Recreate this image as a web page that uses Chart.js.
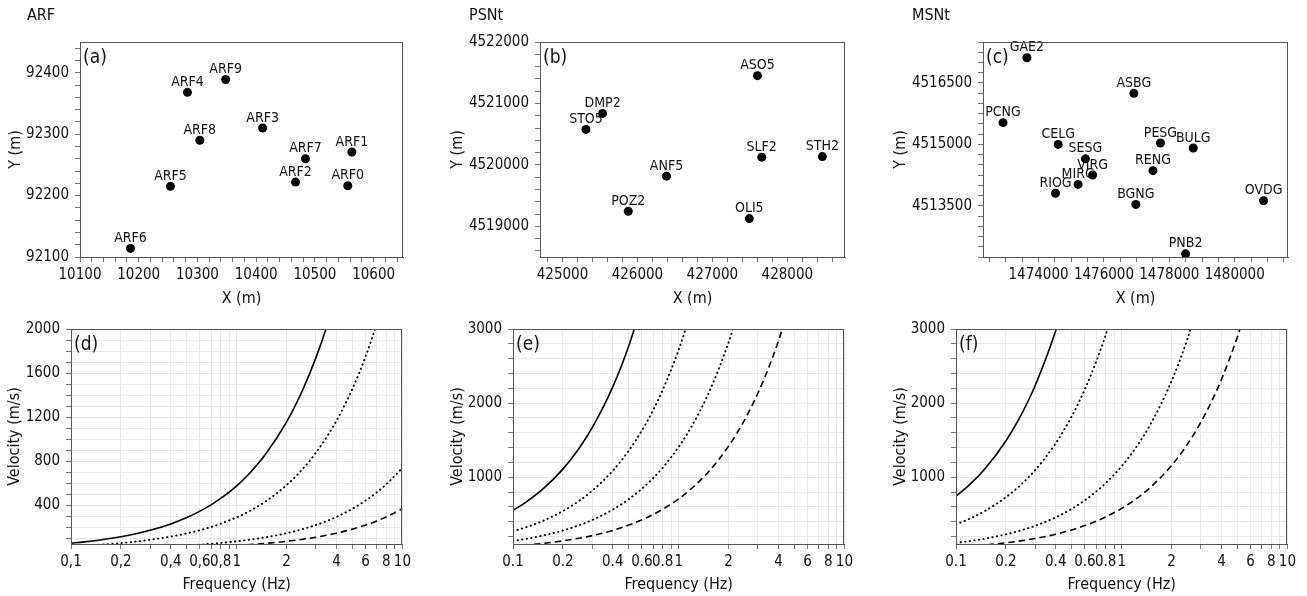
<!DOCTYPE html>
<html>
<head>
<meta charset="UTF-8">
<title>Array layouts and velocity limits</title>
<script src="https://cdn.jsdelivr.net/npm/chart.js"></script>
<style>
  *{margin:0; padding:0;}
  body{width:1307px; height:596px; background:#fff; position:relative; overflow:hidden;}
  canvas{position:absolute;}
</style>
</head>
<body>
<canvas id="pa" width="411" height="310" style="left:4px; top:0px;"></canvas>
<canvas id="pb" width="411" height="310" style="left:446px; top:0px;"></canvas>
<canvas id="pc" width="411" height="310" style="left:889px; top:0px;"></canvas>
<canvas id="pd" width="412" height="286" style="left:3px; top:310px;"></canvas>
<canvas id="pe" width="411" height="286" style="left:446px; top:310px;"></canvas>
<canvas id="pf" width="411" height="286" style="left:889px; top:310px;"></canvas>
<script>
// ---- station maps ----
const arfNames = ['ARF0','ARF1','ARF2','ARF3','ARF4','ARF5','ARF6','ARF7','ARF8','ARF9'];
const arfX = [10556, 10563, 10467, 10411, 10283, 10254, 10186, 10484, 10304, 10348];
const arfY = [92216, 92271, 92222, 92310, 92368, 92215, 92114, 92260, 92290, 92389];

const psnNames = ['ANF5','ASO5','DMP2','OLI5','POZ2','SLF2','STH2','STO5'];
const psnX = [426388, 427602, 425535, 427493, 425878, 427659, 428468, 425313];
const psnY = [4519816, 4521452, 4520837, 4519125, 4519244, 4520125, 4520135, 4520577];

const msnNames = ['ASBG','BGNG','BULG','CELG','GAE2','MIRG','OVDG','PCNG','PESG','PNB2','RENG','RIOG','SESG','VIRG'];
const msnX = [1476915, 1476976, 1478732, 1474600, 1473643, 1475210, 1480884, 1472912, 1477728, 1478497, 1477500, 1474518, 1475433, 1475652];
const msnY = [4516246, 4513535, 4514911, 4515000, 4517116, 4514023, 4513624, 4515531, 4515034, 4512327, 4514359, 4513806, 4514647, 4514253];

// major tick labels
const arfXLabels = [10100, 10200, 10300, 10400, 10500, 10600];
const arfYLabels = [92100, 92200, 92300, 92400];
const psnXLabels = [425000, 426000, 427000, 428000];
const psnYLabels = [4519000, 4520000, 4521000, 4522000];
const msnXLabels = [1474000, 1476000, 1478000, 1480000];
const msnYLabels = [4513500, 4515000, 4516500];

// ---- velocity curves (m/s) ----
const freqs = [0.1,0.12,0.15,0.2,0.25,0.3,0.4,0.5,0.6,0.7,0.8,1,1.2,1.5,2,2.5,3,3.5,4,5,6,7,8,10];

const arfSolid   = [57,69,87,116,145,174,232,290,348,405,463,578,694,868,1157,1447,1736,2025,2314,null,null,null,null,null];
const arfDot1    = [29,35,44,58,73,88,117,146,175,204,234,292,350,438,584,730,876,1022,1168,1460,1752,2044,null,null];
const arfDot2    = [null,null,null,null,null,null,30,37,44,52,59,74,89,111,148,185,222,259,296,370,444,518,592,740];
const arfDash    = [null,null,null,null,null,null,null,null,null,null,null,37,44,56,74,93,111,130,148,185,222,259,296,370];

const psnSolid   = [555,666,833,1110,1388,1665,2220,2775,3330,null,null,null,null,null,null,null,null,null,null,null,null,null,null,null];
const psnDot1    = [272,326,408,544,680,816,1088,1360,1632,1904,2176,2720,3264,null,null,null,null,null,null,null,null,null,null,null];
const psnDot2    = [141,169,212,282,353,423,564,705,846,987,1128,1410,1692,2115,2820,3525,null,null,null,null,null,null,null,null];
const psnDash    = [71,85,107,142,178,213,284,355,426,497,568,710,852,1065,1420,1775,2130,2485,2840,3550,null,null,null,null];

const msnSolid   = [745,894,1118,1490,1863,2235,2980,3725,null,null,null,null,null,null,null,null,null,null,null,null,null,null,null,null];
const msnDot1    = [365,438,548,730,913,1095,1460,1825,2190,2555,2920,3650,null,null,null,null,null,null,null,null,null,null,null,null];
const msnDot2    = [115,138,173,230,288,345,460,575,690,805,920,1150,1380,1725,2300,2875,3450,null,null,null,null,null,null,null];
const msnDash    = [58,70,87,116,145,174,232,290,348,406,464,580,696,870,1160,1450,1740,2030,2320,2900,3480,null,null,null];

const freqLabels = [0.1, 0.2, 0.4, 0.6, 0.8, 1, 2, 4, 6, 8, 10];
const freqTicks = [0.1,0.2,0.3,0.4,0.5,0.6,0.7,0.8,0.9,1,2,3,4,5,6,7,8,9,10];
const arfVLabels = [400, 800, 1200, 1600, 2000];
const netVLabels = [1000, 2000, 3000];

const FONT = '"DejaVu Sans Condensed", "DejaVu Sans", sans-serif';

function steps(a, b, step) {
  const out = [];
  for (let v = a; v <= b + 1e-9; v += step) out.push(Math.round(v * 1000) / 1000);
  return out;
}

function axis(o) {
  return {
    type: o.log ? 'logarithmic' : 'linear',
    min: o.min, max: o.max,
    afterBuildTicks: s => { s.ticks = o.ticks.map(v => ({value: v})); },
    afterFit: s => { if (o.w) s.width = o.w; if (o.h) s.height = o.h; },
    ticks: {
      autoSkip: false, maxRotation: 0, minRotation: 0, padding: o.w ? 6 : 4,
      color: '#111', font: {family: FONT, size: 15},
      callback: v => o.labels.includes(v) ? (o.fmt ? o.fmt(v) : String(v)) : ''
    },
    grid: {display: true, drawOnChartArea: !!o.grid, color: '#e8e8e8', tickLength: 5, tickColor: '#777'},
    border: {color: '#555'},
    title: {display: true, text: o.title, color: '#111', font: {family: FONT, size: 16}, padding: {top: 2, bottom: 2}}
  };
}

const panelPlugin = {
  id: 'panel',
  beforeDatasetsDraw(chart, args, o) {
    const {ctx, chartArea: a} = chart;
    ctx.save();
    ctx.fillStyle = '#111';
    ctx.textBaseline = 'middle';
    ctx.textAlign = 'left';
    ctx.font = '19px ' + FONT;
    ctx.fillText(o.letter, a.left + 3, a.top + 16);
    if (o.names) {
      ctx.font = '14px ' + FONT;
      ctx.textAlign = 'center';
      chart.getDatasetMeta(0).data.forEach((pt, i) => {
        ctx.fillText(o.names[i], pt.x, pt.y - 10);
      });
    }
    ctx.restore();
  },
  afterDraw(chart, args, o) {
    const {ctx, chartArea: a} = chart;
    ctx.save();
    ctx.strokeStyle = '#555';
    ctx.lineWidth = 1;
    ctx.strokeRect(Math.round(a.left) + 0.5, Math.round(a.top) + 0.5, Math.round(a.right - a.left) - 1, Math.round(a.bottom - a.top));
    if (o.title) {
      ctx.fillStyle = '#111';
      ctx.font = '16px ' + FONT;
      ctx.textBaseline = 'middle';
      ctx.textAlign = 'left';
      ctx.fillText(o.title, o.titleX, 16);
    }
    ctx.restore();
  }
};

function mapChart(id, xs, ys, names, title, letter, xa, ya) {
  new Chart(document.getElementById(id), {
    type: 'scatter',
    data: {datasets: [{
      data: xs.map((x, i) => ({x: x, y: ys[i]})),
      pointRadius: 4.5, pointHoverRadius: 4.5, backgroundColor: '#000', borderWidth: 0
    }]},
    options: {
      responsive: false, animation: false, devicePixelRatio: 1,
      layout: {padding: {top: 42, right: 12, left: 0, bottom: 0}},
      scales: {x: axis(xa), y: axis(ya)},
      plugins: {legend: {display: false}, tooltip: {enabled: false},
        panel: {names: names, title: title, titleX: 23, letter: letter}}
    },
    plugins: [panelPlugin]
  });
}

function curve(vals, style) {
  const ds = {
    data: freqs.map((f, i) => ({x: f, y: vals[i]})),
    borderColor: '#000', pointRadius: 0, borderWidth: 1.6,
    cubicInterpolationMode: 'monotone', spanGaps: false
  };
  if (style === 'dot') { ds.borderDash = [0.4, 4.2]; ds.borderCapStyle = 'round'; ds.borderWidth = 1.9; }
  if (style === 'dash') { ds.borderDash = [6.5, 4]; }
  return ds;
}

function velChart(id, sets, letter, ymin, ymax, yTicks, yLabels, yw, fmt) {
  new Chart(document.getElementById(id), {
    type: 'line',
    data: {datasets: [curve(sets[0], 'solid'), curve(sets[1], 'dot'), curve(sets[2], 'dot'), curve(sets[3], 'dash')]},
    options: {
      responsive: false, animation: false, devicePixelRatio: 1,
      layout: {padding: {top: 19, right: 12, left: 0, bottom: 0}},
      scales: {
        x: axis({log: true, min: 0.1, max: 10, ticks: freqTicks, labels: freqLabels, title: 'Frequency (Hz)', h: 52, grid: true, fmt: fmt}),
        y: axis({min: ymin, max: ymax, ticks: yTicks, labels: yLabels, title: 'Velocity (m/s)', w: yw, grid: true})
      },
      plugins: {legend: {display: false}, tooltip: {enabled: false}, panel: {letter: letter}}
    },
    plugins: [panelPlugin]
  });
}

mapChart('pa', arfX, arfY, arfNames, 'ARF', '(a)',
  {min: 10100, max: 10650, ticks: steps(10100, 10640, 20), labels: arfXLabels, title: 'X (m)', h: 53},
  {min: 92100, max: 92450, ticks: steps(92100, 92440, 20), labels: arfYLabels, title: 'Y (m)', w: 76});
mapChart('pb', psnX, psnY, psnNames, 'PSNt', '(b)',
  {min: 424700, max: 428770, ticks: steps(424800, 428600, 200), labels: psnXLabels, title: 'X (m)', h: 53},
  {min: 4518500, max: 4522000, ticks: steps(4518600, 4522000, 200), labels: psnYLabels, title: 'Y (m)', w: 94});
mapChart('pc', msnX, msnY, msnNames, 'MSNt', '(c)',
  {min: 1472300, max: 1481630, ticks: steps(1472500, 1481500, 500), labels: msnXLabels, title: 'X (m)', h: 53},
  {min: 4512250, max: 4517500, ticks: steps(4512250, 4517500, 250), labels: msnYLabels, title: 'Y (m)', w: 94});

velChart('pd', [arfSolid, arfDot1, arfDot2, arfDash], '(d)', 50, 2000, steps(100, 2000, 100), arfVLabels, 68,
  v => String(v).replace('.', ','));
velChart('pe', [psnSolid, psnDot1, psnDot2, psnDash], '(e)', 100, 3000, steps(200, 3000, 200), netVLabels, 67);
velChart('pf', [msnSolid, msnDot1, msnDot2, msnDash], '(f)', 100, 3000, steps(200, 3000, 200), netVLabels, 67);
</script>
</body>
</html>
